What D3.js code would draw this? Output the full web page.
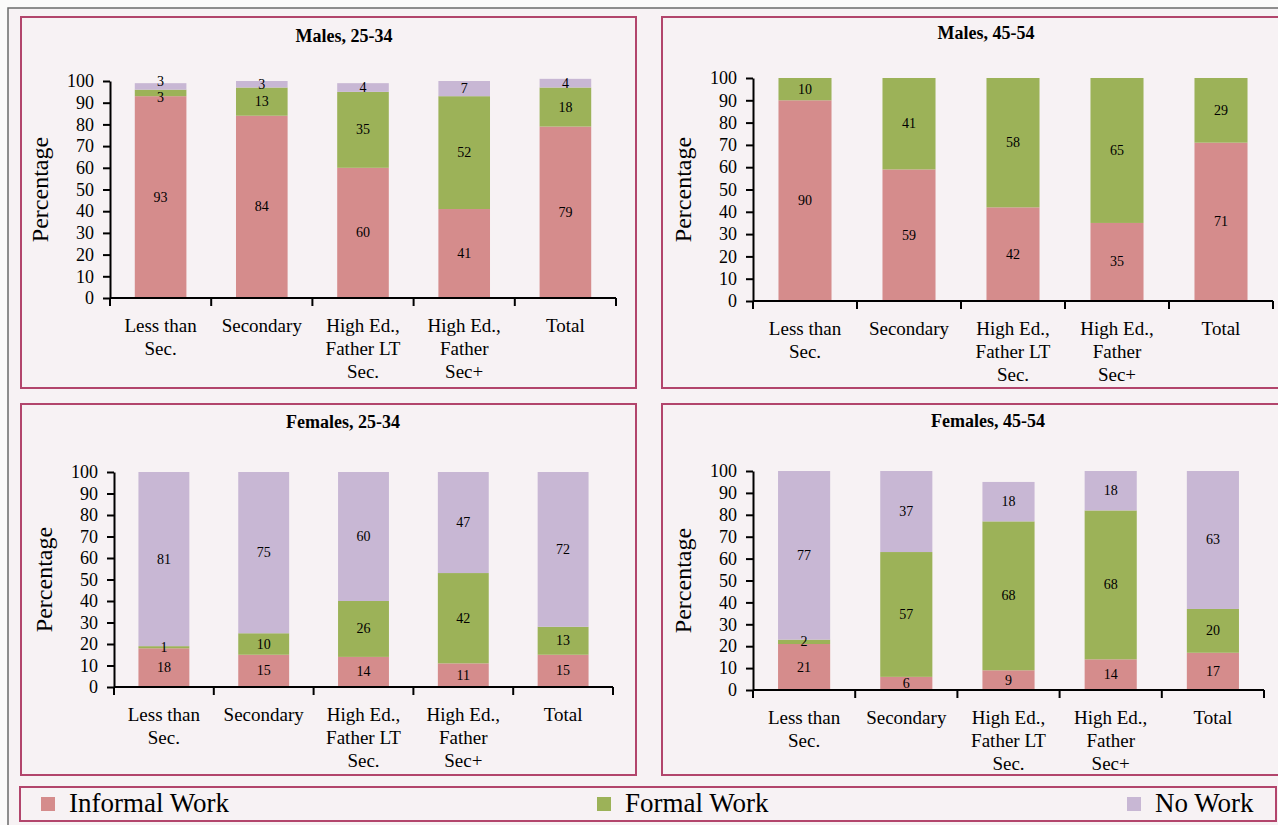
<!DOCTYPE html>
<html>
<head>
<meta charset="utf-8">
<script src="https://cdn.jsdelivr.net/npm/d3@7"></script>
<style>
  html, body { margin: 0; padding: 0; background: #fbfafa; }
  svg { display: block; }
  text { font-family: "Liberation Serif", "Times New Roman", serif; fill: #000; }
</style>
</head>
<body>
<svg id="chart" width="1278" height="825"></svg>
<script>
// Education groups along the x axis (line breaks marked with |)
const categories = ["Less than|Sec.", "Secondary", "High Ed.,|Father LT|Sec.", "High Ed.,|Father|Sec+", "Total"];

const panelTitles = ["Males, 25-34", "Males, 45-54", "Females, 25-34", "Females, 45-54"];

// Percentages per panel, one array per work status
const informalMales2534   = [93, 84, 60, 41, 79];
const formalMales2534     = [3, 13, 35, 52, 18];
const noWorkMales2534     = [3, 3, 4, 7, 4];

const informalMales4554   = [90, 59, 42, 35, 71];
const formalMales4554     = [10, 41, 58, 65, 29];
const noWorkMales4554     = [0, 0, 0, 0, 0];

const informalFemales2534 = [18, 15, 14, 11, 15];
const formalFemales2534   = [1, 10, 26, 42, 13];
const noWorkFemales2534   = [81, 75, 60, 47, 72];

const informalFemales4554 = [21, 6, 9, 14, 17];
const formalFemales4554   = [2, 57, 68, 68, 20];
const noWorkFemales4554   = [77, 37, 18, 18, 63];

const seriesNames = ["Informal Work", "Formal Work", "No Work"];
const yTicks = [0, 10, 20, 30, 40, 50, 60, 70, 80, 90, 100];

const panelData = [
  [informalMales2534, formalMales2534, noWorkMales2534],
  [informalMales4554, formalMales4554, noWorkMales4554],
  [informalFemales2534, formalFemales2534, noWorkFemales2534],
  [informalFemales4554, formalFemales4554, noWorkFemales4554]
];

// ---- styling & layout ----
const colors = ["#d58c8c", "#9cb258", "#c8b7d4"];
const borderColor = "#b2456c";
const panelBg = "#f7f2f4";
const minLabelGap = 16;

const layout = [
  { box: [21, 17, 636, 388],  x0: 110, x1: 616,  yTop: 81,  yBase: 298, titleX: 344, titleY: 36 },
  { box: [662, 17, 1282, 388], x0: 753, x1: 1273, yTop: 78,  yBase: 301, titleX: 986, titleY: 33 },
  { box: [21, 404, 636, 775], x0: 114, x1: 613,  yTop: 472, yBase: 687, titleX: 343, titleY: 422 },
  { box: [662, 404, 1282, 775], x0: 753, x1: 1264, yTop: 471, yBase: 690, titleX: 988, titleY: 421 }
];

const svg = d3.select("#chart");

// inner background and grey frame
svg.append("rect").attr("x", 8).attr("y", 8).attr("width", 1280).attr("height", 830).attr("fill", panelBg);
svg.append("path")
  .attr("d", "M8,830 L8,8 L1280,8")
  .attr("fill", "none").attr("stroke", "#6b6b6b").attr("stroke-width", 1.5);

panelData.forEach((series, pi) => {
  const L = layout[pi];
  const g = svg.append("g");

  // panel frame
  g.append("rect")
    .attr("x", L.box[0]).attr("y", L.box[1])
    .attr("width", L.box[2] - L.box[0]).attr("height", L.box[3] - L.box[1])
    .attr("fill", panelBg).attr("stroke", borderColor).attr("stroke-width", 2);

  // title
  g.append("text")
    .attr("x", L.titleX).attr("y", L.titleY)
    .attr("text-anchor", "middle").attr("dominant-baseline", "central")
    .attr("font-size", 18).attr("font-weight", "bold")
    .text(panelTitles[pi]);

  const x = d3.scaleBand()
    .domain(d3.range(categories.length))
    .range([L.x0, L.x1])
    .paddingInner(0.49)
    .paddingOuter(0.245);

  const y = d3.scaleLinear().domain([0, 100]).range([L.yBase, L.yTop]);

  // stacked rows
  const rows = categories.map((c, i) => ({ i, s0: series[0][i], s1: series[1][i], s2: series[2][i] }));
  const stacked = d3.stack().keys(["s0", "s1", "s2"])(rows);

  // bars
  stacked.forEach((layer, si) => {
    g.append("g").selectAll("rect")
      .data(layer.filter(d => d[1] - d[0] > 0))
      .join("rect")
      .attr("x", d => x(d.data.i))
      .attr("width", x.bandwidth())
      .attr("y", d => y(d[1]))
      .attr("height", d => y(d[0]) - y(d[1]))
      .attr("fill", colors[si]);
  });

  // value labels, centred in each segment; labels of thin neighbouring
  // segments are spread apart so they sit one above the other
  categories.forEach((c, i) => {
    const labels = stacked
      .map(layer => layer[i])
      .filter(d => d[1] - d[0] > 0)
      .map(d => ({ v: d[1] - d[0], ly: y((d[0] + d[1]) / 2) }));
    for (let k = 1; k < labels.length; k++) {
      const gap = labels[k - 1].ly - labels[k].ly;
      if (gap < minLabelGap) {
        const shift = (minLabelGap - gap) / 2;
        labels[k - 1].ly += shift;
        labels[k].ly -= shift;
      }
    }
    g.append("g").selectAll("text")
      .data(labels)
      .join("text")
      .attr("x", x(i) + x.bandwidth() / 2)
      .attr("y", d => d.ly)
      .attr("text-anchor", "middle")
      .attr("dominant-baseline", "central")
      .attr("font-size", 14)
      .text(d => d.v);
  });

  // y axis
  const yAxis = d3.axisLeft(y).tickValues(yTicks).tickSize(7).tickSizeOuter(0).tickPadding(9);
  const ya = g.append("g").attr("transform", `translate(${L.x0},0)`).call(yAxis);
  ya.select(".domain").attr("stroke", "#000").attr("stroke-width", 2);
  ya.selectAll(".tick line").attr("stroke", "#000").attr("stroke-width", 2);
  ya.selectAll(".tick text").attr("font-size", 18).attr("fill", "#000");

  // x axis line with ticks at category boundaries
  g.append("line")
    .attr("x1", L.x0).attr("x2", L.x1)
    .attr("y1", L.yBase).attr("y2", L.yBase)
    .attr("stroke", "#000").attr("stroke-width", 2);
  const bounds = d3.range(categories.length + 1).map(k => L.x0 + k * (L.x1 - L.x0) / categories.length);
  g.selectAll(".xtick").data(bounds).join("line")
    .attr("class", "xtick")
    .attr("x1", d => d).attr("x2", d => d)
    .attr("y1", L.yBase).attr("y2", L.yBase + 8)
    .attr("stroke", "#000").attr("stroke-width", 2);

  // category labels
  categories.forEach((c, i) => {
    const t = g.append("text")
      .attr("x", x(i) + x.bandwidth() / 2)
      .attr("y", L.yBase + 34)
      .attr("text-anchor", "middle")
      .attr("font-size", 19);
    c.split("|").forEach((line, li) => {
      t.append("tspan")
        .attr("x", x(i) + x.bandwidth() / 2)
        .attr("dy", li === 0 ? 0 : 23)
        .text(line);
    });
  });

  // y axis title
  g.append("text")
    .attr("transform", `translate(${L.x0 - 62},${(L.yBase + L.yTop) / 2}) rotate(-90)`)
    .attr("text-anchor", "middle")
    .attr("font-size", 24)
    .text("Percentage");
});

// legend
const lg = svg.append("g");
lg.append("rect")
  .attr("x", 20).attr("y", 787).attr("width", 1256).attr("height", 34)
  .attr("fill", panelBg).attr("stroke", borderColor).attr("stroke-width", 2);
const legendX = [41, 597, 1127];
seriesNames.forEach((name, i) => {
  lg.append("rect")
    .attr("x", legendX[i]).attr("y", 797)
    .attr("width", 14).attr("height", 14)
    .attr("fill", colors[i]);
  lg.append("text")
    .attr("x", legendX[i] + 28).attr("y", 812)
    .attr("font-size", 27)
    .text(name);
});
</script>
</body>
</html>
